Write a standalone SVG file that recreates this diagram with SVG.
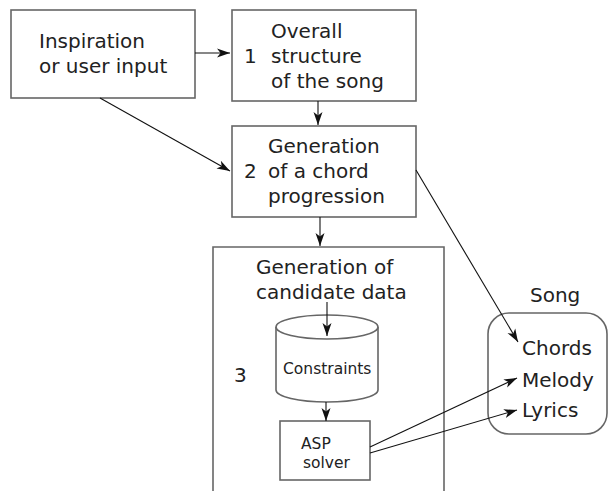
<svg xmlns="http://www.w3.org/2000/svg" width="616" height="491" viewBox="0 0 616 491">
<style>
.box{fill:#fff;stroke:#666;stroke-width:1.6}
.t{font-family:"DejaVu Sans",sans-serif;font-size:20px;fill:#222}
.s{font-family:"DejaVu Sans",sans-serif;font-size:15.5px;fill:#222}
.c{fill:none;stroke:#111;stroke-width:1.1}
</style>
<defs>
<marker id="ah" markerUnits="userSpaceOnUse" markerWidth="14" markerHeight="10" refX="13" refY="5" orient="auto">
<path d="M0,0.5 L13,5 L0,9.5 L3.5,5 z" fill="#111"/>
</marker>
</defs>
<rect width="616" height="491" fill="#fff"/>
<g id="inspiration">
<rect class="box" x="11" y="10" width="184" height="88"/>
<text class="t" x="39" y="48">Inspiration</text>
<text class="t" x="39" y="73">or user input</text>
</g>
<g id="step1">
<rect class="box" x="232" y="10" width="184" height="91"/>
<text class="t" x="244" y="63">1</text>
<text class="t" x="271" y="38">Overall</text>
<text class="t" x="271" y="63">structure</text>
<text class="t" x="271" y="88">of the song</text>
</g>
<g id="step2">
<rect class="box" x="232" y="126" width="184" height="91"/>
<text class="t" x="244" y="178">2</text>
<text class="t" x="268" y="153">Generation</text>
<text class="t" x="268" y="178">of a chord</text>
<text class="t" x="268" y="203">progression</text>
</g>
<g id="step3">
<path class="box" d="M213,495 L213,247 L444,247 L444,495" fill="#fff"/>
<text class="t" x="256" y="274">Generation of</text>
<text class="t" x="256" y="299">candidate data</text>
<text class="t" x="234" y="382">3</text>
</g>
<g id="constraints">
<path class="box" d="M276,327 L276,390 A51,12 0 0 0 378,390 L378,327 A51,12 0 0 0 276,327 Z"/>
<path class="box" d="M276,327 A51,12 0 0 0 378,327" fill="none"/>
<text class="s" x="283" y="374">Constraints</text>
</g>
<g id="asp">
<rect class="box" x="280" y="421" width="90" height="59"/>
<text class="s" x="301" y="449">ASP</text>
<text class="s" x="303" y="468">solver</text>
</g>
<g id="song">
<text class="t" x="530" y="302">Song</text>
<rect class="box" x="488" y="313" width="119" height="121" rx="21" ry="21"/>
<text class="t" x="522" y="355">Chords</text>
<text class="t" x="522" y="387">Melody</text>
<text class="t" x="522" y="417">Lyrics</text>
</g>
<g id="connectors">
<line class="c" x1="195" y1="53" x2="230" y2="53" marker-end="url(#ah)"/>
<line class="c" x1="100" y1="98" x2="230" y2="171" marker-end="url(#ah)"/>
<line class="c" x1="318" y1="101" x2="318" y2="125" marker-end="url(#ah)"/>
<line class="c" x1="320" y1="217" x2="320" y2="246" marker-end="url(#ah)"/>
<line class="c" x1="327" y1="302" x2="327" y2="336" marker-end="url(#ah)"/>
<line class="c" x1="326" y1="402" x2="326" y2="421" marker-end="url(#ah)"/>
<line class="c" x1="416" y1="170" x2="518" y2="342" marker-end="url(#ah)"/>
<line class="c" x1="370" y1="447" x2="517" y2="378" marker-end="url(#ah)"/>
<line class="c" x1="370" y1="453" x2="517" y2="410" marker-end="url(#ah)"/>
</g>
</svg>
